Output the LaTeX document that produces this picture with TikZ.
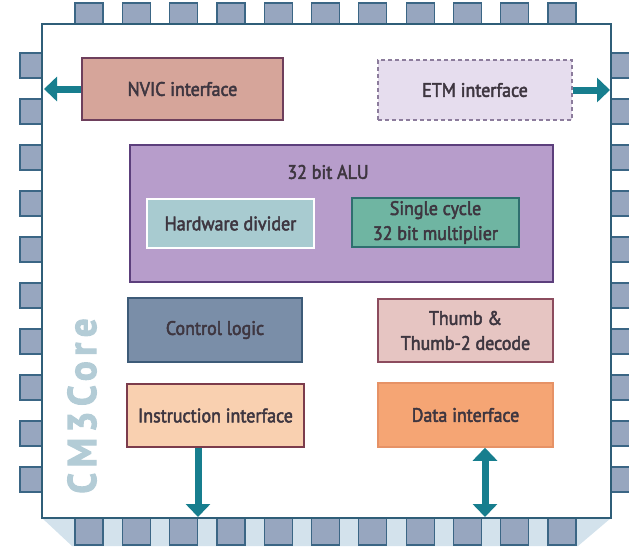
\documentclass[tikz,border=0pt]{standalone}
\usepackage{fontspec}
\setmainfont{PT Sans}[FakeStretch=0.92,FakeBold=2.5]
\usetikzlibrary{arrows.meta}
\definecolor{chipline}{HTML}{2F5E78}
\definecolor{pinfill}{HTML}{97A6BF}
\definecolor{pinline}{HTML}{3B6685}
\definecolor{shadowcol}{HTML}{D3E2EC}
\definecolor{buscol}{HTML}{177E8E}
\definecolor{txtcol}{HTML}{3E3640}
\definecolor{nvicfill}{HTML}{D6A59A}
\definecolor{nvicline}{HTML}{6E3F5C}
\definecolor{etmfill}{HTML}{E6DDEE}
\definecolor{etmline}{HTML}{8C7C9C}
\definecolor{alufill}{HTML}{B79DCB}
\definecolor{aluline}{HTML}{5C3F7C}
\definecolor{divfill}{HTML}{A8CBD0}
\definecolor{multfill}{HTML}{6FB5A2}
\definecolor{multline}{HTML}{2F6F6F}
\definecolor{ctrlfill}{HTML}{7A8EA8}
\definecolor{ctrlline}{HTML}{3D5B78}
\definecolor{thumbfill}{HTML}{E6C5C2}
\definecolor{thumbline}{HTML}{8C4C5E}
\definecolor{instrfill}{HTML}{F9D0B0}
\definecolor{instrline}{HTML}{7C3C4C}
\definecolor{datafill}{HTML}{F5A574}
\definecolor{dataline}{HTML}{E69266}
\definecolor{cmcol}{HTML}{B3CCD6}
\tikzset{
  block/.style={draw, line width=1.5pt, text=txtcol, font=\fontsize{19.5}{25}\selectfont, align=center, inner sep=0pt},
  pin/.style={draw=pinline, fill=pinfill, line width=1.2pt},
  bus/.style={draw=buscol, line width=7pt, -{Triangle[width=24pt,length=13pt]}},
}

\begin{document}
\begin{tikzpicture}[x=1pt,y=-1pt]
\useasboundingbox (0,0) rectangle (629,547);
\fill[shadowcol] (42,518) -- (72,546) -- (578,546) -- (611,518) -- cycle;
\foreach \i in {0,...,10} {
  \draw[pin] (75+47.3*\i,3) rectangle +(28,21);
  \draw[pin] (75+47.3*\i,518) rectangle +(28,27);
}
\foreach \i in {0,...,9} {
  \draw[pin] (20,53+46*\i) rectangle +(22,25);
  \draw[pin] (611,53+46*\i) rectangle +(22,25);
}
\draw[chipline, line width=2.5pt, fill=white] (42,24) rectangle (611,518);
\node[rotate=90, text=cmcol, font=\fontsize{40}{40}\selectfont\bfseries\addfontfeature{LetterSpace=14}] (cmcore) at (82,406) {CM3Core};
\node[block, draw=nvicline, fill=nvicfill, minimum width=201pt, minimum height=62pt] (nvic) at (182.5,89) {NVIC interface};
\node[block, draw=etmline, fill=etmfill, dash pattern=on 4pt off 3pt, minimum width=194pt, minimum height=60pt] (etm) at (475,90) {ETM interface};
\node[block, draw=aluline, fill=alufill, minimum width=423pt, minimum height=137pt] (alu) at (341.5,213.5) {};
\node[text=txtcol, font=\fontsize{19.5}{25}\selectfont] (alutitle) at (328,172) {32 bit ALU};
\node[block, draw=white, fill=divfill, minimum width=167pt, minimum height=49pt] (divider) at (230.5,223.5) {Hardware divider};
\node[block, draw=multline, fill=multfill, minimum width=167pt, minimum height=49pt] (mult) at (435.5,222.5) {Single cycle\\32 bit multiplier};
\node[block, draw=ctrlline, fill=ctrlfill, minimum width=174pt, minimum height=64pt] (ctrl) at (215,330) {Control logic};
\node[block, draw=thumbline, fill=thumbfill, minimum width=175pt, minimum height=63pt] (thumb) at (465.5,330.5) {Thumb \&\\Thumb-2 decode};
\node[block, draw=instrline, fill=instrfill, minimum width=177pt, minimum height=63pt] (instr) at (215.5,415.5) {Instruction interface};
\node[block, draw=dataline, fill=datafill, minimum width=175pt, minimum height=64pt] (data) at (465.5,415) {Data interface};
\coordinate (nvicpin) at (44,89);
\coordinate (etmpin) at (610,90);
\coordinate (ibus) at (198,517);
\coordinate (dbus) at (485,517);
\draw[bus] (nvic.west) -- (nvicpin);
\draw[bus] (etm.east) -- (etmpin);
\draw[bus] (ibus |- instr.south) -- (ibus);
\draw[bus, {Triangle[width=24pt,length=13pt]}-{Triangle[width=24pt,length=13pt]}] (dbus |- data.south) -- (dbus);
\end{tikzpicture}
\end{document}
